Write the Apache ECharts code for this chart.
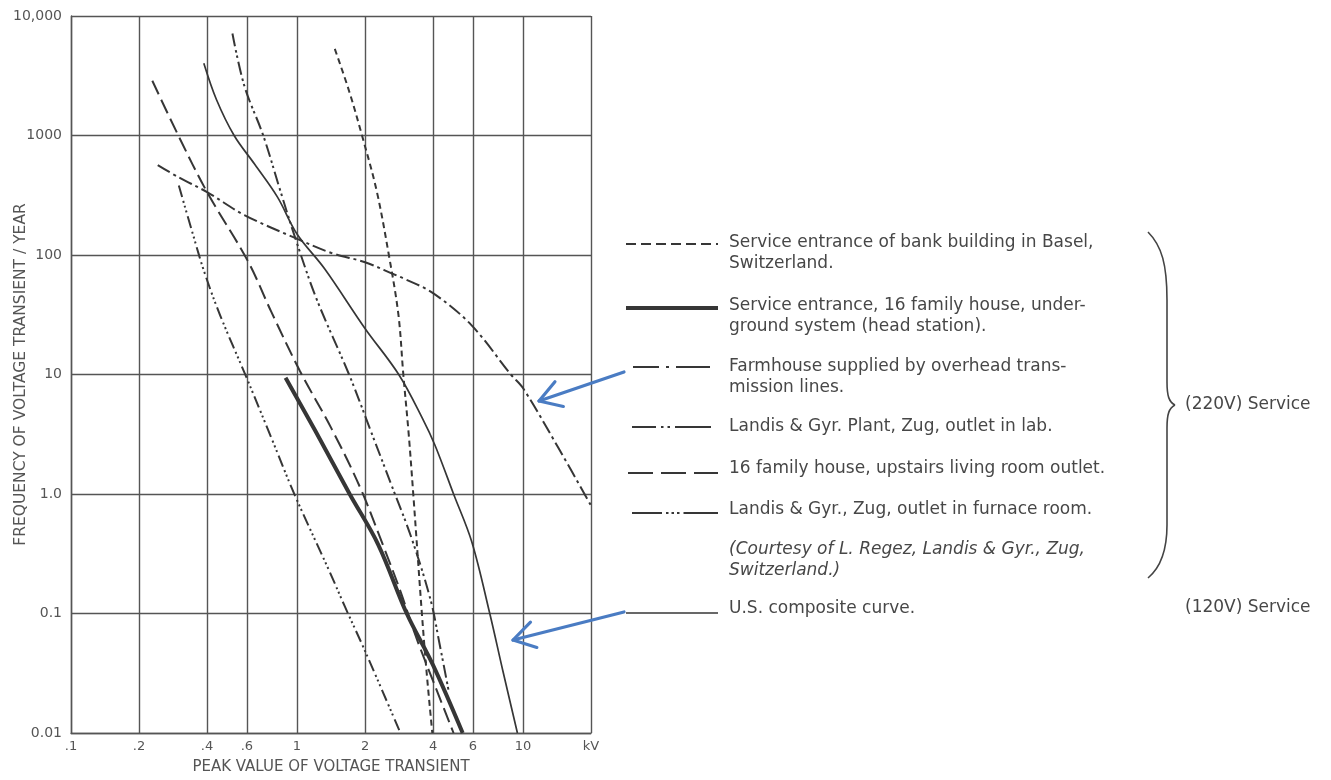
<!DOCTYPE html>
<html><head><meta charset="utf-8">
<script src="https://cdn.jsdelivr.net/npm/echarts@6/dist/echarts.min.js"></script>
<style>html,body{margin:0;padding:0;background:#fff}#c{width:1331px;height:780px}</style>
</head><body><div id="c"></div>
<script>
// ---- tick values / labels ----
const xTickValues = [0.1, 0.2, 0.4, 0.6, 1, 2, 4, 6, 10, 20];
const xTickLabels = ['.1', '.2', '.4', '.6', '1', '2', '4', '6', '10', 'kV'];
const yTickValues = [0.01, 0.1, 1, 10, 100, 1000, 10000];
const yTickLabels = ['0.01', '0.1', '1.0', '10', '100', '1000', '10,000'];

// ---- series data: [peak kV, frequency per year] ----
const bankBasel = [[1.47,5300],[1.70,2360],[1.94,1000],[2.25,347],[2.55,100],[2.81,31.8],[2.955,10],[3.12,3.2],[3.27,1.0],[3.57,0.1],[3.75,0.0316],[3.97,0.01]];
const familyServiceEntrance = [[0.89,9.4],[1.21,3.33],[1.71,1.0],[2.29,0.376],[3.06,0.1],[4.0,0.037],[5.41,0.01]];
const farmhouse = [[0.242,566],[0.30,446],[0.4,336],[0.585,216],[0.98,139],[1.42,104],[2.0,87],[2.68,69],[3.0,63],[4.0,48],[5.9,26],[8.84,10],[10,7.7],[14.4,2.4],[20,0.8]];
const landisLab = [[0.518,7130],[0.585,2600],[0.709,1000],[0.843,347],[0.987,135],[1.22,43],[1.7,10],[2.1,3.54],[2.64,1.14],[3.21,0.43],[3.9,0.13],[4.28,0.055],[4.7,0.022]];
const familyUpstairs = [[0.229,2870],[0.30,980],[0.4,336],[0.606,89],[0.77,33.4],[1.03,10.7],[1.42,3.54],[1.9,1.14],[2.43,0.353],[2.86,0.156],[3.37,0.063],[4.04,0.026],[4.93,0.01]];
const landisFurnace = [[0.30,381],[0.345,153],[0.389,72],[0.457,31.3],[0.597,9.5],[0.77,2.95],[0.98,0.97],[1.40,0.22],[1.63,0.114],[2.0,0.0486],[2.87,0.01]];
const usComposite = [[0.387,4020],[0.44,2000],[0.527,1000],[0.65,574],[0.82,305],[1.0,150],[1.33,76],[2.0,24.3],[2.82,10],[3.59,4.3],[4.08,2.56],[4.93,1.0],[5.93,0.4],[7.13,0.1],[8.15,0.033],[9.45,0.01]];

// ---- legend texts ----
const legendTexts = [
  ['Service entrance of bank building in Basel,', 'Switzerland.'],
  ['Service entrance, 16 family house, under-', 'ground system (head station).'],
  ['Farmhouse supplied by overhead trans-', 'mission lines.'],
  ['Landis & Gyr. Plant, Zug, outlet in lab.'],
  ['16 family house, upstairs living room outlet.'],
  ['Landis & Gyr., Zug, outlet in furnace room.']
];
const courtesyText = ['(Courtesy of L. Regez, Landis & Gyr., Zug,', 'Switzerland.)'];
const usLegendText = 'U.S. composite curve.';
const service220 = '(220V) Service';
const service120 = '(120V) Service';
const xAxisName = 'PEAK VALUE OF VOLTAGE TRANSIENT';
const yAxisName = 'FREQUENCY OF VOLTAGE TRANSIENT / YEAR';

// ---- styles ----
const ink = '#363636';
const gridInk = '#555';
const labelInk = '#555';
const textInk = '#474747';
const blue = '#4a7cc3';
const styles = [
  {w: 2, dash: [6, 4], sample: [10, 5]},
  {w: 4, dash: 'solid', sample: null},
  {w: 2, dash: [14, 4, 3, 4], sample: [26, 7, 3, 7, 34]},
  {w: 2, dash: [13, 4, 2.5, 3, 2.5, 4], sample: [24, 5, 2.5, 4, 2.5, 5, 40]},
  {w: 2, dash: [15, 6], sample: [25, 8]},
  {w: 2, dash: [12, 4, 2, 3, 2, 3, 2, 4], sample: [30, 4, 2.5, 3, 2.5, 3, 2.5, 4, 40]}
];
const usStyle = {w: 1.7, dash: 'solid'};
const allData = [bankBasel, familyServiceEntrance, farmhouse, landisLab, familyUpstairs, landisFurnace];

const series = allData.map((d, i) => ({
  name: legendTexts[i].join(' '), type: 'line', data: d, showSymbol: false, smooth: 0.35,
  lineStyle: {color: ink, width: styles[i].w, type: styles[i].dash}, silent: true, z: 3
}));
series.push({
  name: usLegendText, type: 'line', data: usComposite, showSymbol: false, smooth: 0.35,
  lineStyle: {color: ink, width: usStyle.w, type: usStyle.dash}, silent: true, z: 3
});

function fmtFrom(vals, labels) {
  return function (v) {
    for (let i = 0; i < vals.length; i++) if (Math.abs(vals[i] - v) / vals[i] < 1e-6) return labels[i];
    return '';
  };
}

// ---- legend graphics ----
const g = [];
const textFont = '17px "DejaVu Sans", sans-serif';
const rowY = [243, 306, 367, 427, 469, 510];
const sample = [[626, 718, 244], [626, 718, 308], [633, 710, 367], [632, 711, 427], [628, 718, 473], [632, 718, 513]];
legendTexts.forEach((lines, i) => {
  g.push({type: 'line', shape: {x1: sample[i][0], y1: sample[i][2], x2: sample[i][1], y2: sample[i][2]},
    style: {stroke: ink, lineWidth: styles[i].w, lineDash: styles[i].sample}});
  lines.forEach((t, j) => g.push({type: 'text', style: {text: t, x: 729, y: rowY[i] + j * 21, font: textFont, fill: textInk, verticalAlign: 'middle'}}));
});
courtesyText.forEach((t, j) => g.push({type: 'text', style: {text: t, x: 729, y: 550 + j * 21, font: 'italic ' + textFont, fill: textInk, verticalAlign: 'middle'}}));
g.push({type: 'line', shape: {x1: 626, y1: 613, x2: 718, y2: 613}, style: {stroke: ink, lineWidth: usStyle.w}});
g.push({type: 'text', style: {text: usLegendText, x: 729, y: 609, font: textFont, fill: textInk, verticalAlign: 'middle'}});
g.push({type: 'text', style: {text: service220, x: 1185, y: 405, font: textFont, fill: textInk, verticalAlign: 'middle'}});
g.push({type: 'text', style: {text: service120, x: 1185, y: 608, font: textFont, fill: textInk, verticalAlign: 'middle'}});
// brace made of bezier curves and lines
const braceStyle = {stroke: '#444', lineWidth: 1.6, fill: null};
g.push({type: 'bezierCurve', shape: {x1: 1148, y1: 232, cpx1: 1162, cpy1: 246, cpx2: 1167, cpy2: 265, x2: 1167, y2: 300}, style: braceStyle});
g.push({type: 'line', shape: {x1: 1167, y1: 300, x2: 1167, y2: 382}, style: braceStyle});
g.push({type: 'bezierCurve', shape: {x1: 1167, y1: 382, cpx1: 1167, cpy1: 396, cpx2: 1169, cpy2: 402, x2: 1175, y2: 405}, style: braceStyle});
g.push({type: 'bezierCurve', shape: {x1: 1175, y1: 405, cpx1: 1169, cpy1: 408, cpx2: 1167, cpy2: 414, x2: 1167, y2: 428}, style: braceStyle});
g.push({type: 'line', shape: {x1: 1167, y1: 428, x2: 1167, y2: 525}, style: braceStyle});
g.push({type: 'bezierCurve', shape: {x1: 1167, y1: 525, cpx1: 1167, cpy1: 552, cpx2: 1160, cpy2: 568, x2: 1148, y2: 578}, style: braceStyle});
// arrows
function arrow(x1, y1, x2, y2) {
  const ang = Math.atan2(y2 - y1, x2 - x1), L = 25, a = 0.55;
  g.push({type: 'line', shape: {x1, y1, x2, y2}, style: {stroke: blue, lineWidth: 3.2, lineCap: 'round'}, z: 10});
  g.push({type: 'polyline', shape: {points: [
    [x2 - L * Math.cos(ang - a), y2 - L * Math.sin(ang - a)], [x2, y2], [x2 - L * Math.cos(ang + a), y2 - L * Math.sin(ang + a)]]},
    style: {stroke: blue, lineWidth: 3.2, lineCap: 'round', lineJoin: 'round', fill: null}, z: 10});
}
arrow(624, 372, 539, 401);
arrow(624, 612, 513, 640);

const chart = echarts.init(document.getElementById('c'), null, {renderer: 'canvas'});
chart.setOption({
  animation: false,
  backgroundColor: '#fff',
  grid: {left: 71, top: 16, right: 740, bottom: 47, show: false, outerBoundsMode: 'none'},
  xAxis: {
    type: 'log', logBase: 10, min: 0.1, max: 20,
    name: xAxisName, nameLocation: 'middle', nameGap: 27, nameMoveOverlap: false,
    nameTextStyle: {color: labelInk, fontSize: 15, fontFamily: 'DejaVu Sans'},
    axisLine: {show: true, lineStyle: {color: gridInk, width: 1.4}},
    axisTick: {show: false, customValues: xTickValues},
    axisLabel: {customValues: xTickValues, formatter: fmtFrom(xTickValues, xTickLabels), color: labelInk, fontSize: 13, fontFamily: 'DejaVu Sans', margin: 7, showMinLabel: true, showMaxLabel: true},
    splitLine: {show: true, lineStyle: {color: gridInk, width: 1.4}}
  },
  yAxis: {
    type: 'log', logBase: 10, min: 0.01, max: 10000, splitNumber: 6,
    name: yAxisName, nameLocation: 'middle', nameGap: 42, nameMoveOverlap: false,
    nameTextStyle: {color: labelInk, fontSize: 15.5, fontFamily: 'DejaVu Sans'},
    axisLine: {show: true, lineStyle: {color: gridInk, width: 1.4}},
    axisTick: {show: false},
    axisLabel: {formatter: fmtFrom(yTickValues, yTickLabels), color: labelInk, fontSize: 14, fontFamily: 'DejaVu Sans', margin: 9, showMinLabel: true, showMaxLabel: true},
    splitLine: {show: true, lineStyle: {color: gridInk, width: 1.4}}
  },
  series: series,
  graphic: g
});
</script></body></html>
